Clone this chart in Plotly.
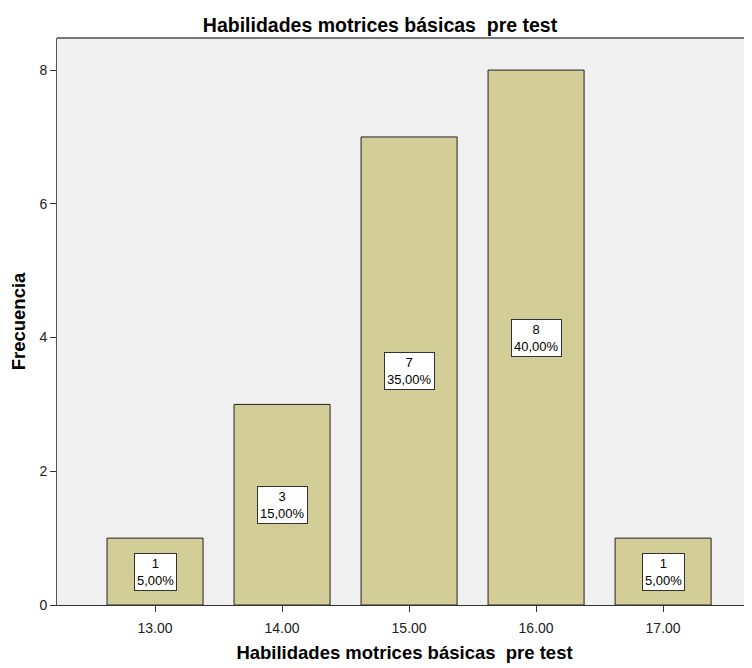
import plotly.graph_objects as go

categories = [13, 14, 15, 16, 17]
tick_labels = ["13.00", "14.00", "15.00", "16.00", "17.00"]
frequencies = [1, 3, 7, 8, 1]
percents = ["5,00%", "15,00%", "35,00%", "40,00%", "5,00%"]

title = "Habilidades motrices básicas  pre test"
sans = "Liberation Sans, Arial, sans-serif"

fig = go.Figure()
fig.add_trace(go.Bar(
    x=categories, y=frequencies, width=0.756,
    marker=dict(color="#D3CE97", line=dict(color="#222222", width=1)),
    hoverinfo="skip",
))

for c, f, p in zip(categories, frequencies, percents):
    fig.add_annotation(
        x=c, y=f / 2, text=f"{f}<br>{p}", showarrow=False,
        font=dict(family=sans, size=13, color="black"),
        bgcolor="white", bordercolor="#333333", borderwidth=1, borderpad=2,
    )

fig.update_layout(
    width=744, height=660,
    margin=dict(l=49, r=0, t=30, b=63),
    paper_bgcolor="white", plot_bgcolor="#F0F0F0",
    showlegend=False,
    title=dict(text=title, x=0.5, xanchor="center", y=0.9735, yanchor="middle",
               font=dict(family=sans, size=19.5, color="black", weight="bold")),
    font=dict(family=sans, size=13, color="black"),
)
fig.update_xaxes(
    range=[13 - 0.772, 17 + 0.70],
    tickvals=categories, ticktext=tick_labels,
    ticks="outside", ticklen=6, tickcolor="#333333",
    ticklabelstandoff=4,
    showgrid=False, zeroline=False,
    showline=True, linecolor="#333333", linewidth=1,
    tickfont=dict(family=sans, size=14, color="#222222"),
    title=dict(text=title, font=dict(family=sans, size=18.5, color="black", weight="bold"), standoff=11),
)
fig.update_yaxes(
    range=[0, 8.48],
    tickvals=[0, 2, 4, 6, 8],
    ticks="outside", ticklen=6, tickcolor="#333333",
    showgrid=False, zeroline=False,
    showline=True, linecolor="#555555", linewidth=1, mirror=False,
    tickfont=dict(family=sans, size=14, color="#222222"),
    title=dict(text="Frecuencia", font=dict(family=sans, size=18.5, color="black", weight="bold"), standoff=18),
)
fig.add_shape(type="line", xref="paper", yref="paper", x0=0, x1=1, y0=1, y1=1,
              line=dict(color="#777777", width=2))

fig.write_html("out.html")
